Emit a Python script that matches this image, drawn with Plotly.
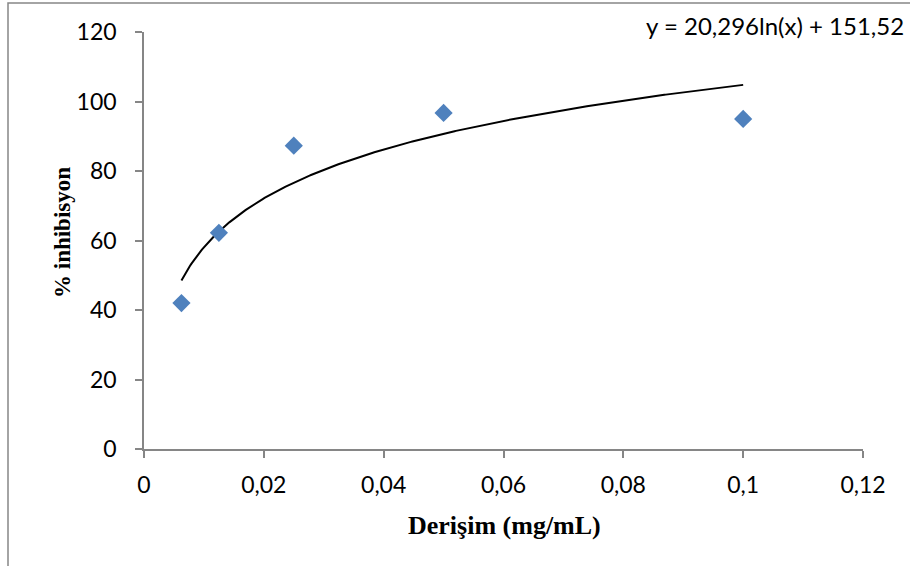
import numpy as np
import plotly.graph_objects as go

# Data
conc = [0.00625, 0.0125, 0.025, 0.05, 0.1]
inhib = [42.0, 62.2, 87.3, 96.7, 95.0]
coef_a = 20.296
coef_b = 151.52
x_ticks = [0, 0.02, 0.04, 0.06, 0.08, 0.1, 0.12]
x_ticklabels = ["0", "0,02", "0,04", "0,06", "0,08", "0,1", "0,12"]
y_ticks = [0, 20, 40, 60, 80, 100, 120]
equation = "y = 20,296ln(x) + 151,52"
x_title = "Derişim (mg/mL)"
y_title = "% inhibisyon"

W, H = 910, 566
L, R, T, B = 144, 47, 32, 117
pw, ph = W - L - R, H - T - B

xt = np.linspace(min(conc), max(conc), 400)
yt = coef_a * np.log(xt) + coef_b

fig = go.Figure()
fig.add_trace(go.Scatter(x=xt, y=yt, mode="lines",
                         line=dict(color="black", width=2), hoverinfo="skip",
                         showlegend=False))
fig.add_trace(go.Scatter(x=conc, y=inhib, mode="markers",
                         marker=dict(symbol="diamond", size=14, color="#4F81BD",
                                     line=dict(width=0)),
                         showlegend=False))

axis_col = "#868686"
tfont = dict(family="Lato, Open Sans, sans-serif", size=23, color="black")
fig.update_xaxes(range=[0, 0.12], tickvals=x_ticks, ticktext=x_ticklabels,
                 showgrid=False, zeroline=False, showline=True, linecolor=axis_col,
                 linewidth=1.5, ticks="outside", ticklen=7, tickcolor=axis_col,
                 tickwidth=1.5, ticklabelstandoff=8, tickfont=tfont)
fig.update_yaxes(range=[0, 120], tickvals=y_ticks,
                 showgrid=False, zeroline=False, showline=True, linecolor=axis_col,
                 linewidth=1.5, ticks="outside", ticklen=7, tickcolor=axis_col,
                 tickwidth=1.5, ticklabelstandoff=14, tickfont=tfont)

fig.add_annotation(text=equation, xref="paper", yref="paper",
                   x=(906 - L) / pw, y=(H - B - 25) / ph, xanchor="right", yanchor="middle",
                   showarrow=False,
                   font=dict(family="Lato, Open Sans, sans-serif", size=24, color="black"))
fig.add_annotation(text="<b>" + x_title + "</b>", xref="paper", yref="paper",
                   x=(504 - L) / pw, y=(H - B - 525) / ph, xanchor="center", yanchor="middle",
                   showarrow=False,
                   font=dict(family="Liberation Serif, Times New Roman, serif", size=26, color="black"))
fig.add_annotation(text="<b>" + y_title + "</b>", xref="paper", yref="paper",
                   x=(62 - L) / pw, y=(H - B - 233) / ph, xanchor="center", yanchor="middle",
                   textangle=-90, showarrow=False,
                   font=dict(family="Liberation Serif, Times New Roman, serif", size=23, color="black"))

fig.add_shape(type="rect", xref="paper", yref="paper",
              x0=(8 - L) / pw, x1=(920 - L) / pw,
              y0=(H - B - 580) / ph, y1=(H - B - 3) / ph,
              line=dict(color=axis_col, width=1.5), fillcolor="rgba(0,0,0,0)", layer="below")

fig.update_layout(width=W, height=H, margin=dict(l=L, r=R, t=T, b=B),
                  paper_bgcolor="white", plot_bgcolor="white", separators=",.")
fig.write_html("out.html")
